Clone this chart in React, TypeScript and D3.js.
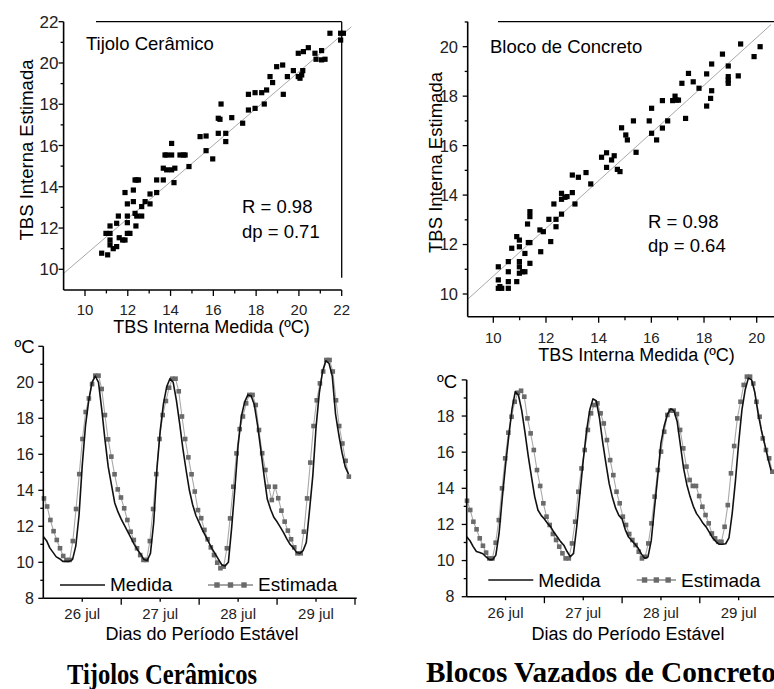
import React from 'react';
import * as d3 from 'd3';

// ---------- DATA ----------
// Scatter: [TBS interna medida, TBS interna estimada]
const tijoloPairs: [number, number][] = [
  [10.78, 10.78], [11.06, 10.7], [10.98, 11.74], [11.17, 11.74], [11.17, 12.1], [11.17, 11.42], [11.17, 11.18],
  [11.32, 11.0], [11.48, 11.1], [11.48, 12.23], [11.56, 12.58], [11.6, 11.53], [11.76, 11.42], [11.87, 11.42],
  [11.87, 13.72], [11.98, 11.74], [11.98, 12.26], [11.98, 12.58], [11.98, 13.17], [12.1, 11.74], [12.26, 13.28],
  [12.26, 13.84], [12.34, 14.33], [12.42, 14.33], [12.5, 14.33], [12.34, 12.71], [12.42, 12.58], [12.38, 12.1],
  [12.65, 12.58], [12.65, 13.04], [12.81, 13.28], [13.04, 13.17], [13.04, 13.65], [13.35, 13.72], [13.35, 14.33],
  [13.66, 14.33], [13.66, 14.9], [13.74, 15.54], [13.82, 15.54], [13.82, 14.82], [14.05, 15.54], [14.05, 16.1],
  [14.05, 14.82], [14.2, 14.9], [14.16, 14.2], [14.44, 15.54], [14.6, 15.54], [14.68, 15.54], [14.86, 14.98],
  [15.38, 16.43], [15.66, 16.46], [15.66, 15.75], [15.97, 15.35], [16.23, 16.59], [16.23, 17.32], [16.31, 17.27],
  [16.36, 18.01], [16.58, 16.59], [16.58, 16.19], [16.86, 17.35], [17.37, 17.08], [17.64, 17.72], [17.64, 18.48],
  [17.95, 17.8], [17.95, 18.56], [18.26, 18.56], [18.38, 18.01], [18.49, 18.69], [18.65, 19.34], [18.77, 19.05],
  [18.96, 19.82], [19.24, 19.9], [19.27, 18.48], [19.46, 19.34], [19.74, 19.63], [19.97, 20.47], [19.97, 19.34],
  [20.05, 19.26], [20.13, 19.42], [20.18, 19.63], [20.21, 20.55], [20.44, 20.74], [20.75, 20.47], [20.8, 20.18],
  [21.06, 20.6], [21.06, 20.15], [21.22, 20.18], [21.45, 21.44], [21.95, 21.11], [21.95, 21.44], [22.08, 21.44],
];

const concretoPairs: [number, number][] = [
  [10.19, 11.1], [10.19, 10.57], [10.25, 10.3], [10.19, 10.23], [10.32, 10.23], [10.57, 11.31], [10.57, 10.9],
  [10.57, 10.5], [10.57, 10.23], [10.7, 11.85], [10.89, 12.32], [10.89, 10.5], [10.99, 12.18], [10.99, 11.91],
  [10.99, 11.31], [10.99, 11.1], [10.99, 10.84], [11.11, 10.9], [11.2, 11.64], [11.2, 10.9], [11.3, 12.83],
  [11.33, 12.08], [11.39, 11.24], [11.39, 13.33], [11.39, 13.13], [11.39, 12.08], [11.77, 12.59], [11.8, 11.71],
  [11.9, 12.52], [12.11, 13.02], [12.18, 12.12], [12.3, 13.64], [12.38, 12.72], [12.38, 13.02], [12.59, 13.23],
  [12.59, 14.07], [12.59, 13.83], [12.72, 13.91], [12.8, 13.94], [13.0, 14.1], [13.0, 14.81], [13.1, 13.64],
  [13.23, 14.72], [13.52, 14.91], [13.7, 14.45], [14.11, 15.53], [14.3, 15.71], [14.3, 15.12], [14.49, 15.42],
  [14.59, 15.59], [14.71, 15.04], [14.81, 14.95], [14.87, 16.72], [15.03, 16.43], [15.09, 16.23], [15.32, 17.0],
  [15.42, 15.73], [15.92, 17.0], [16.01, 17.51], [16.01, 16.5], [16.2, 16.23], [16.42, 17.82], [16.42, 16.71],
  [16.62, 17.0], [16.81, 17.82], [16.9, 18.0], [16.96, 17.84], [17.03, 17.84], [17.16, 18.52], [17.3, 17.1],
  [17.41, 18.92], [17.59, 18.58], [17.81, 18.32], [18.1, 17.6], [18.1, 18.9], [18.25, 17.91], [18.29, 19.3],
  [18.29, 18.22], [18.7, 19.7], [18.92, 19.22], [18.92, 18.79], [18.92, 18.65], [18.92, 18.52], [19.3, 18.82],
  [19.39, 20.11], [19.9, 19.6], [20.13, 20.0],
];

// Regression lines: [x0, y0, x1, y1]
const tijoloFit = [9, 9.8, 22.45, 21.75];
const concretoFit = [9, 9.76, 20.55, 20.9];

// Hourly series (26 jul 00h ->)
const tijoloMedida = [
  11.43, 11.2, 10.8, 10.55, 10.3, 10.2, 10.05, 10.05, 10.05, 10.15,
  10.9, 12.6, 15.4, 17.6, 19.0, 20.0, 20.35, 20.0, 18.5, 16.8,
  15.3, 14.3, 13.3, 12.8, 12.4, 12.05, 11.7, 11.35, 11.0, 10.7,
  10.45, 10.15, 10.1, 10.5, 12.2, 15.2, 17.3, 18.8, 19.75, 20.2,
  20.0, 19.0, 17.7, 16.3, 15.1, 14.0, 13.2, 12.6, 12.2, 11.8,
  11.45, 11.1, 10.75, 10.45, 10.15, 9.85, 9.8, 10.0, 11.9, 14.1,
  16.5, 18.1, 18.9, 19.3, 19.25, 18.75, 17.6, 16.24, 14.8, 13.5,
  12.95, 12.5, 12.25, 11.95, 11.65, 11.3, 11.0, 10.8, 10.55, 10.5,
  10.65, 11.1, 12.9, 14.8, 17.5, 19.4, 20.6, 21.2, 21.05, 20.35,
  18.25, 17.1, 16.1, 15.3, 14.9,
];
const tijoloEstimada = [
  13.55, 13.1, 12.35, 11.73, 11.24, 10.78, 10.35, 10.13, 10.13, 11.18,
  12.96, 14.9, 16.85, 18.35, 19.1, 19.9, 20.37, 20.37, 19.63, 18.18,
  16.83, 15.87, 14.89, 14.05, 13.6, 13.0, 12.35, 11.7, 11.24, 10.78,
  10.4, 10.13, 10.13, 11.18, 12.96, 14.9, 16.85, 18.18, 18.96, 19.7,
  20.2, 20.2, 19.5, 18.1, 16.85, 15.83, 14.89, 13.93, 12.9, 12.45,
  11.8, 11.28, 10.83, 10.4, 9.98, 9.67, 9.76, 10.78, 12.44, 14.2,
  16.05, 17.4, 18.1, 18.83, 19.3, 19.3, 18.74, 17.35, 16.06, 15.13,
  14.2, 13.46, 14.2, 13.56, 12.87, 12.26, 11.76, 11.28, 10.83, 10.5,
  10.5, 11.7, 13.55, 15.54, 17.57, 19.0, 19.94, 20.6, 21.24, 21.24,
  20.6, 19.0, 17.57, 16.6, 15.64, 14.76,
];
const concretoMedida = [
  11.32, 11.1, 10.77, 10.5, 10.45, 10.38, 10.2, 10.05, 10.05, 10.3,
  11.5, 13.5, 15.3, 16.9, 18.4, 19.35, 19.15, 18.3, 17.1, 15.8,
  14.64, 13.54, 12.8, 12.5, 12.3, 12.05, 11.85, 11.55, 11.3, 11.05,
  10.85, 10.5, 10.21, 10.4, 11.9, 13.75, 15.55, 17.15, 18.33, 18.95,
  18.85, 17.9, 16.55, 15.38, 14.27, 13.5, 12.9, 12.5, 12.3, 11.7,
  11.3, 11.1, 10.9, 10.68, 10.35, 10.13, 10.2, 11.1, 12.9, 14.65,
  16.5, 17.45, 18.1, 18.4, 18.3, 17.7, 16.4, 15.1, 14.2, 13.54,
  13.0, 12.6, 12.35, 12.06, 11.85, 11.55, 11.25, 11.05, 10.9, 10.9,
  10.93, 11.25, 12.6, 14.4, 16.5, 18.33, 19.44, 20.1, 20.0, 19.3,
  18.15, 17.23, 16.49, 15.7, 15.0,
];
const concretoEstimada = [
  13.31, 12.8, 12.15, 11.73, 11.23, 10.82, 10.44, 10.12, 10.12, 10.99,
  12.24, 14.0, 15.66, 17.08, 17.96, 18.79, 19.29, 19.4, 19.07, 17.87,
  17.04, 16.12, 15.01, 14.13, 13.17, 12.43, 11.97, 11.47, 11.14, 10.77,
  10.4, 10.12, 10.12, 10.95, 12.15, 13.81, 15.1, 16.12, 17.23, 18.15,
  18.61, 18.7, 18.15, 17.59, 16.67, 15.56, 14.73, 13.81, 13.17, 12.43,
  11.97, 11.47, 11.14, 10.86, 10.49, 10.12, 10.21, 10.95, 12.06, 13.54,
  15.01, 16.03, 17.13, 18.06, 18.3, 18.3, 18.11, 17.23, 16.21, 15.2,
  14.46, 14.13, 14.13, 13.57, 12.98, 12.52, 12.06, 11.5, 11.23, 11.04,
  11.04, 11.87, 13.07, 14.83, 16.34, 17.87, 18.79, 19.72, 20.18, 20.18,
  19.8, 18.79, 17.96, 16.76, 16.12, 15.66, 14.92,
];
// time span (hours) covered by the estimated samples
const tijoloEstSpan = [0.2, 94.1];
const concretoEstSpan = [0.1, 94.4];

const dayLabels = ['26 jul', '27 jul', '28 jul', '29 jul'];

const SANS = "'Liberation Sans', Arial, Helvetica, sans-serif";
const SERIF = "'Liberation Serif', 'Times New Roman', serif";

// ---------- Scatter panel ----------
function ScatterPanel(p: any) {
  const x: d3.ScaleLinear<number, number> = p.x;
  const y: d3.ScaleLinear<number, number> = p.y;
  return (
    <g>
      <line x1={p.frameTopStart} x2={p.axisRight} y1={p.axisTop} y2={p.axisTop} stroke="#000" strokeWidth={1.3} />
      {p.rightFrameEnd !== null && (
        <line x1={p.axisRight} x2={p.axisRight} y1={p.axisTop} y2={p.rightFrameEnd} stroke="#000" strokeWidth={1.3} />
      )}
      <line x1={x(p.fit[0])} y1={y(p.fit[1])} x2={x(p.fit[2])} y2={y(p.fit[3])} stroke="#a8a8a8" strokeWidth={1} />
      {p.pairs.map((d: [number, number], i: number) => (
        <rect key={i} x={x(d[0]) - 2.6} y={y(d[1]) - 2.6} width={5.2} height={5.2} fill="#000" />
      ))}
      <line x1={p.axisLeft} x2={p.axisLeft} y1={p.axisTop} y2={p.axisBottom} stroke="#000" strokeWidth={1.6} />
      <line x1={p.axisLeft} x2={p.axisRight} y1={p.axisBottom} y2={p.axisBottom} stroke="#000" strokeWidth={1.6} />
      {p.xTicks.map((t: number) => {
        const major = t % 2 === 0;
        return (
          <g key={'x' + t}>
            <line x1={x(t)} x2={x(t)} y1={p.axisBottom} y2={p.axisBottom + (major ? 6 : 3.5)} stroke="#000" strokeWidth={1.3} />
            {major && (
              <text x={x(t)} y={p.xLabelBase} textAnchor="middle" fontSize={15} fontFamily={SANS} fill="#222">{t}</text>
            )}
          </g>
        );
      })}
      {p.yTicks.map((t: number) => {
        const major = t % 2 === 0;
        return (
          <g key={'y' + t}>
            <line x1={p.axisLeft - (major ? 5 : 3)} x2={p.axisLeft} y1={y(t)} y2={y(t)} stroke="#000" strokeWidth={1.3} />
            {major && (
              <text x={p.yLabelEnd} y={y(t)} dy="0.36em" textAnchor="end" fontSize={p.yLabelSize} fontFamily={SANS} fill="#222">{t}</text>
            )}
          </g>
        );
      })}
      <text transform={`translate(${p.yTitleX},${p.yTitleY}) rotate(-90)`} textAnchor="middle" fontSize={18.5} fontFamily={SANS} fill="#000">TBS Interna Estimada</text>
      <text x={p.xTitleX} y={p.xTitleBase} textAnchor="middle" fontSize={18} fontFamily={SANS} fill="#000">TBS Interna Medida (ºC)</text>
      <text x={p.nameX} y={p.nameY} fontSize={18.5} fontFamily={SANS} fill="#000">{p.name}</text>
      <text x={p.statX} y={p.statY} fontSize={18.5} fontFamily={SANS} fill="#000">{p.r}</text>
      <text x={p.statX} y={p.statY + 24.5} fontSize={18.5} fontFamily={SANS} fill="#000">{p.dp}</text>
    </g>
  );
}

// ---------- Line panel ----------
function LinePanel(p: any) {
  const x: d3.ScaleLinear<number, number> = p.x;
  const y: d3.ScaleLinear<number, number> = p.y;
  const axisBottom = y(p.yMin);
  const medPts = p.medida.map((v: number, i: number) => [x(i), y(v)] as [number, number]);
  const step = (p.estSpan[1] - p.estSpan[0]) / (p.estimada.length - 1);
  const estPts = p.estimada.map((v: number, i: number) => [x(p.estSpan[0] + i * step), y(v)] as [number, number]);
  const lineGen = d3.line().curve(d3.curveLinear);
  const yTicks = d3.range(p.yMin, p.yMax + 1);
  const dayTicks = [24, 48, 72, 96];
  const noonTicks = [12, 36, 60, 84];
  const sq = 4.6;
  return (
    <g>
      <path d={lineGen(estPts) || ''} fill="none" stroke="#a9a9a9" strokeWidth={1.1} />
      {estPts.map((d: [number, number], i: number) => (
        <rect key={i} x={d[0] - sq / 2} y={d[1] - sq / 2} width={sq} height={sq} fill="#6a6a6a" />
      ))}
      <path d={lineGen(medPts) || ''} fill="none" stroke="#111" strokeWidth={1.6} strokeLinejoin="round" />
      <line x1={p.axisLeft} x2={p.axisLeft} y1={p.yTop} y2={axisBottom} stroke="#000" strokeWidth={1.6} />
      <line x1={p.axisLeft} x2={p.axisRight} y1={axisBottom} y2={axisBottom} stroke="#000" strokeWidth={1.6} />
      {yTicks.map((t: number) => {
        const major = t % 2 === 0;
        return (
          <g key={t}>
            <line x1={p.axisLeft - (major ? 5 : 3)} x2={p.axisLeft} y1={y(t)} y2={y(t)} stroke="#000" strokeWidth={1.3} />
            {major && t < p.yMax && (
              <text x={p.yLabelEnd} y={y(t)} dy="0.36em" textAnchor="end" fontSize={16} fontFamily={SANS} fill="#222">{t}</text>
            )}
          </g>
        );
      })}
      <text x={p.unitX} y={p.unitBase} textAnchor="end" fontSize={18.5} fontFamily={SANS} fill="#000">ºC</text>
      {dayTicks.filter((t) => x(t) <= p.axisRight + 1).map((t) => (
        <line key={'d' + t} x1={x(t)} x2={x(t)} y1={axisBottom} y2={axisBottom + 6.5} stroke="#000" strokeWidth={1.3} />
      ))}
      {noonTicks.map((t, i) => (
        <g key={'n' + t}>
          <line x1={x(t)} x2={x(t)} y1={axisBottom} y2={axisBottom + 3.5} stroke="#000" strokeWidth={1.3} />
          <text x={x(t)} y={p.xLabelBase} textAnchor="middle" fontSize={15} fontFamily={SANS} fill="#222">{dayLabels[i]}</text>
        </g>
      ))}
      <text x={p.titleX} y={p.titleBase} textAnchor="middle" fontSize={18} fontFamily={SANS} fill="#000">Dias do Período Estável</text>
      <line x1={p.legMed[0]} x2={p.legMed[1]} y1={p.legY} y2={p.legY} stroke="#111" strokeWidth={1.3} />
      <text x={p.legMed[1] + 5} y={p.legTextBase} fontSize={19} fontFamily={SANS} fill="#000">Medida</text>
      <line x1={p.legEst[0]} x2={p.legEst[1]} y1={p.legY} y2={p.legY} stroke="#888" strokeWidth={1.3} />
      {[0.2, 0.5, 0.8].map((f, i) => {
        const cx = p.legEst[0] + f * (p.legEst[1] - p.legEst[0]);
        return <rect key={i} x={cx - 2.7} y={p.legY - 2.7} width={5.4} height={5.4} fill="#6a6a6a" />;
      })}
      <text x={p.legEst[1] + 5} y={p.legTextBase} fontSize={19} fontFamily={SANS} fill="#000">Estimada</text>
    </g>
  );
}

export default function App() {
  const xA = d3.scaleLinear().domain([10, 22]).range([85, 341.7]);
  const yA = d3.scaleLinear().domain([10, 22]).range([269.3, 21.7]);
  const xB = d3.scaleLinear().domain([10, 20]).range([493.3, 756.7]);
  const yB = d3.scaleLinear().domain([10, 20]).range([294, 46.7]);
  const xC = d3.scaleLinear().domain([0, 96]).range([43.3, 355]);
  const yC = d3.scaleLinear().domain([8, 22]).range([598.3, 346.3]);
  const xD = d3.scaleLinear().domain([0, 96]).range([466.7, 777.5]);
  const yD = d3.scaleLinear().domain([8, 20]).range([596.7, 379.9]);

  return (
    <svg width={774} height={689} viewBox="0 0 774 689"
      style={{ position: 'absolute', left: 0, top: 0, background: '#fff' }}>
      <rect x={0} y={0} width={774} height={689} fill="#fff" />
      <ScatterPanel
        pairs={tijoloPairs} fit={tijoloFit} x={xA} y={yA}
        xTicks={d3.range(10, 23)} yTicks={d3.range(10, 23)}
        axisLeft={xA(9)} axisBottom={yA(9)} axisTop={yA(22)} axisRight={xA(22)}
        frameTopStart={96} rightFrameEnd={277.7}
        yLabelEnd={58.5} yLabelSize={17} xLabelBase={315.3}
        yTitleX={33.3} yTitleY={150} xTitleX={211.5} xTitleBase={332.7}
        name="Tijolo Cerâmico" nameX={86} nameY={50}
        r="R = 0.98" dp="dp = 0.71" statX={242} statY={213}
      />
      <ScatterPanel
        pairs={concretoPairs} fit={concretoFit} x={xB} y={yB}
        xTicks={d3.range(10, 22)} yTicks={d3.range(10, 22)}
        axisLeft={467.7} axisBottom={316.7} axisTop={21.7} axisRight={774}
        frameTopStart={498} rightFrameEnd={null}
        yLabelEnd={458} yLabelSize={16.5} xLabelBase={343}
        yTitleX={441.5} yTitleY={162.5} xTitleX={636.5} xTitleBase={361}
        name="Bloco de Concreto" nameX={490} nameY={52.7}
        r="R = 0.98" dp="dp = 0.64" statX={648} statY={227.7}
      />
      <LinePanel
        medida={tijoloMedida} estimada={tijoloEstimada} estSpan={tijoloEstSpan}
        x={xC} y={yC} axisLeft={43.3} axisRight={356.7} yTop={yC(22)} yMax={22} yMin={8}
        yLabelEnd={34} unitX={34.5} unitBase={353}
        xLabelBase={619} titleX={202} titleBase={640}
        legMed={[60, 105]} legEst={[208, 253]} legY={585} legTextBase={590.5}
      />
      <LinePanel
        medida={concretoMedida} estimada={concretoEstimada} estSpan={concretoEstSpan}
        x={xD} y={yD} axisLeft={466.7} axisRight={774} yTop={yD(20)} yMax={20} yMin={8}
        yLabelEnd={454.5} unitX={457} unitBase={388}
        xLabelBase={618} titleX={628} titleBase={640}
        legMed={[488.3, 533.3]} legEst={[636.7, 676]} legY={580} legTextBase={587}
      />
      <text x={162} y={684} textAnchor="middle" fontSize={28.5} fontWeight="bold" fontFamily={SERIF} fill="#000"
        textLength={190} lengthAdjust="spacingAndGlyphs">Tijolos Cerâmicos</text>
      <text x={426} y={682} fontSize={28.5} fontWeight="bold" fontFamily={SERIF} fill="#000"
        textLength={350} lengthAdjust="spacingAndGlyphs">Blocos Vazados de Concreto</text>
    </svg>
  );
}
